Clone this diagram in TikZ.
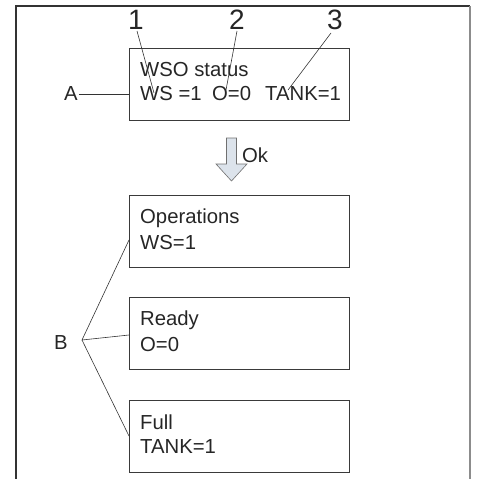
\documentclass[tikz,border=0pt]{standalone}
\usepackage{fontspec}
\setmainfont{Liberation Sans}
\definecolor{boxline}{HTML}{3A3A3A}
\definecolor{arrowfill}{HTML}{DCE3EB}
\definecolor{arrowline}{HTML}{707070}
\begin{document}
\begin{tikzpicture}[x=1pt,y=-1pt,
  font=\fontsize{20.3}{24}\selectfont,
  statebox/.style={draw=boxline,line width=1.1pt,minimum width=220pt,minimum height=72pt,anchor=north west},
  boxtext/.style={anchor=west,inner sep=0pt,text=black!85},
  leader/.style={draw=black!80,line width=0.6pt},
  callout/.style={inner sep=1pt,text=black!85},
  bignum/.style={inner sep=0pt,text=black!85,font=\fontsize{28}{30}\selectfont}]
\useasboundingbox (0,0) rectangle (478,479);
% frame
\draw[line width=1.1pt,draw=black!80] (16,479.5) -- (16,6) -- (470,6);
\draw[line width=1.4pt,draw=black!45] (470,6) -- (470,479.5);
% boxes
\node[statebox] (boxA) at (129,48) {};
\node[statebox] (boxOp) at (129,195) {};
\node[statebox] (boxRd) at (129,297) {};
\node[statebox] (boxFl) at (129,400) {};
% texts
\node[boxtext] (tA1) at (140,70) {WSO status};
\node[boxtext] (tA2) at (140,94) {WS =1};
\node[boxtext] (tA3) at (212,94) {O=0};
\node[boxtext] (tA4) at (265,94) {TANK=1};
\node[boxtext] (tOp1) at (140,218) {Operations};
\node[boxtext] (tOp2) at (140,243) {WS=1};
\node[boxtext] (tRd1) at (140,320) {Ready};
\node[boxtext] (tRd2) at (140,345) {O=0};
\node[boxtext] (tFl1) at (140,422) {Full};
\node[boxtext] (tFl2) at (140,447) {TANK=1};
% callouts
\node[bignum] (n1) at (136,20) {1};
\node[bignum] (n2) at (237,20) {2};
\node[bignum] (n3) at (335,20) {3};
\node[callout] (nA) at (71,94) {A};
\node[callout] (nB) at (61,343) {B};
\coordinate (e1) at (154,93);
\coordinate (e2) at (226,90);
\coordinate (e3) at (288,90);
\coordinate (bv) at (82,340);
\draw[leader] (137,31) -- (e1);
\draw[leader] (237,31) -- (e2);
\draw[leader] (331,33) -- (e3);
\draw[leader] (nA.east) -- (boxA.west |- nA.east);
\draw[leader] (boxOp.west |- 0,240) -- (bv) -- (boxRd.west |- 0,335);
\draw[leader] (bv) -- (boxFl.west |- 0,436);
% Ok arrow
\draw[draw=arrowline,fill=arrowfill,line width=0.6pt,line join=miter]
  (226.5,138) -- (236.5,138) -- (236.5,164) -- (247,164) -- (231.5,181)
  -- (216,164) -- (226.5,164) -- cycle;
\coordinate (arrtip) at (231.5,181);
\node[callout,anchor=west] (ok) at (241,155) {Ok};
\end{tikzpicture}
\end{document}
